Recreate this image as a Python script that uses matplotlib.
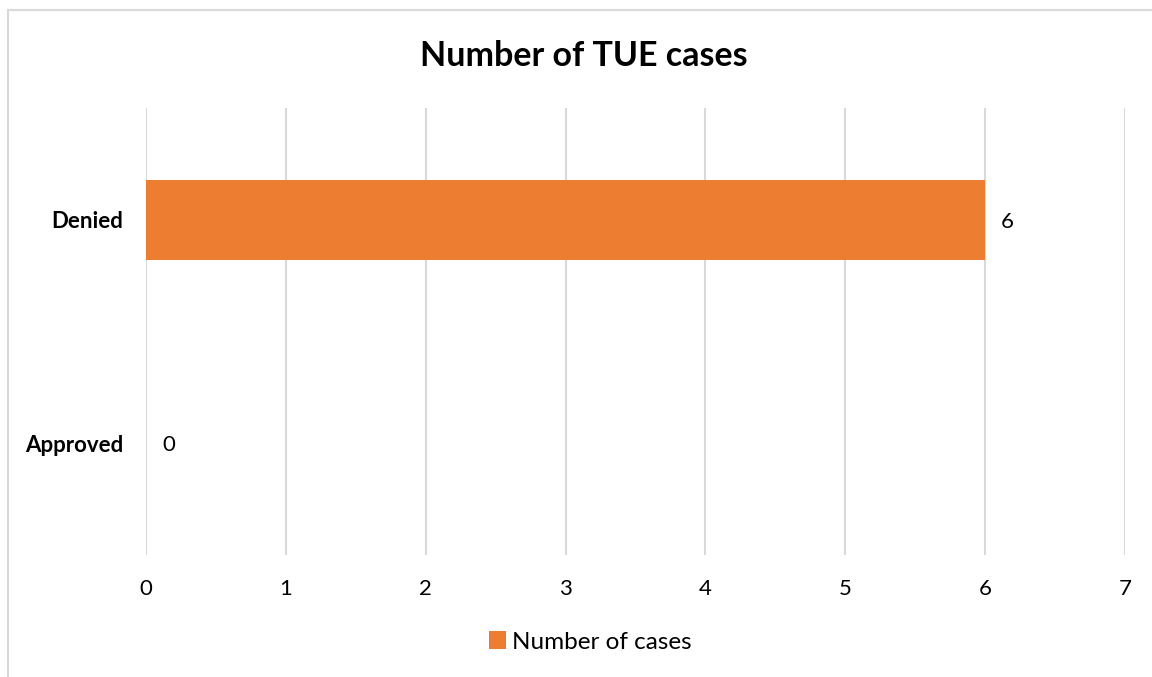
import matplotlib
matplotlib.use("Agg")
import matplotlib.pyplot as plt
from matplotlib.patches import Rectangle

categories = ["Approved", "Denied"]
values = [0, 6]
series_name = "Number of cases"
title = "Number of TUE cases"
xticks = [0, 1, 2, 3, 4, 5, 6, 7]

plt.rcParams['font.family'] = ['Lato', 'DejaVu Sans']

W, H = 1152, 677
fig = plt.figure(figsize=(W / 100, H / 100), dpi=100)
ax = fig.add_axes([146 / W, 1 - 555 / H, (1125 - 146) / W, (555 - 108) / H])

bars = ax.barh(range(len(categories)), values, height=0.36, color="#ED7D31", label=series_name, zorder=3)
for i, v in enumerate(values):
    ax.annotate(str(v), (v, i), xytext=(16, -2), textcoords="offset pixels",
                va="center", ha="left", fontsize=16, color="#000000")

ax.set_xlim(0, 7)
ax.set_ylim(-0.5, 1.5)
ax.set_xticks(xticks)
ax.set_xticklabels([str(t) for t in xticks], fontsize=16)
ax.set_yticks(range(len(categories)))
ax.set_yticklabels(categories, fontsize=16, fontweight="bold")
ax.tick_params(axis="both", length=0)
ax.tick_params(axis="x", pad=17)
ax.tick_params(axis="y", pad=16.5)
ax.grid(axis="x", color="#D9D9D9", linewidth=1.5, zorder=0)
for s in ax.spines.values():
    s.set_visible(False)

fig.text(584 / W, 1 - 56 / H, title, ha="center", va="center", fontsize=24.5, fontweight="bold")

leg = fig.legend(handles=[bars], labels=[series_name], loc="center", bbox_to_anchor=(590 / W, 1 - 642 / H),
                 frameon=False, fontsize=17.5, handlelength=0.7, handleheight=0.7, handletextpad=0.25)

fig.patches.append(Rectangle((8 / W, -0.1), 1.2, 1 - 10 / H + 0.1, transform=fig.transFigure,
                             fill=False, edgecolor="#D9D9D9", linewidth=1.5))

fig.savefig("out.png", dpi=100, facecolor="white")
